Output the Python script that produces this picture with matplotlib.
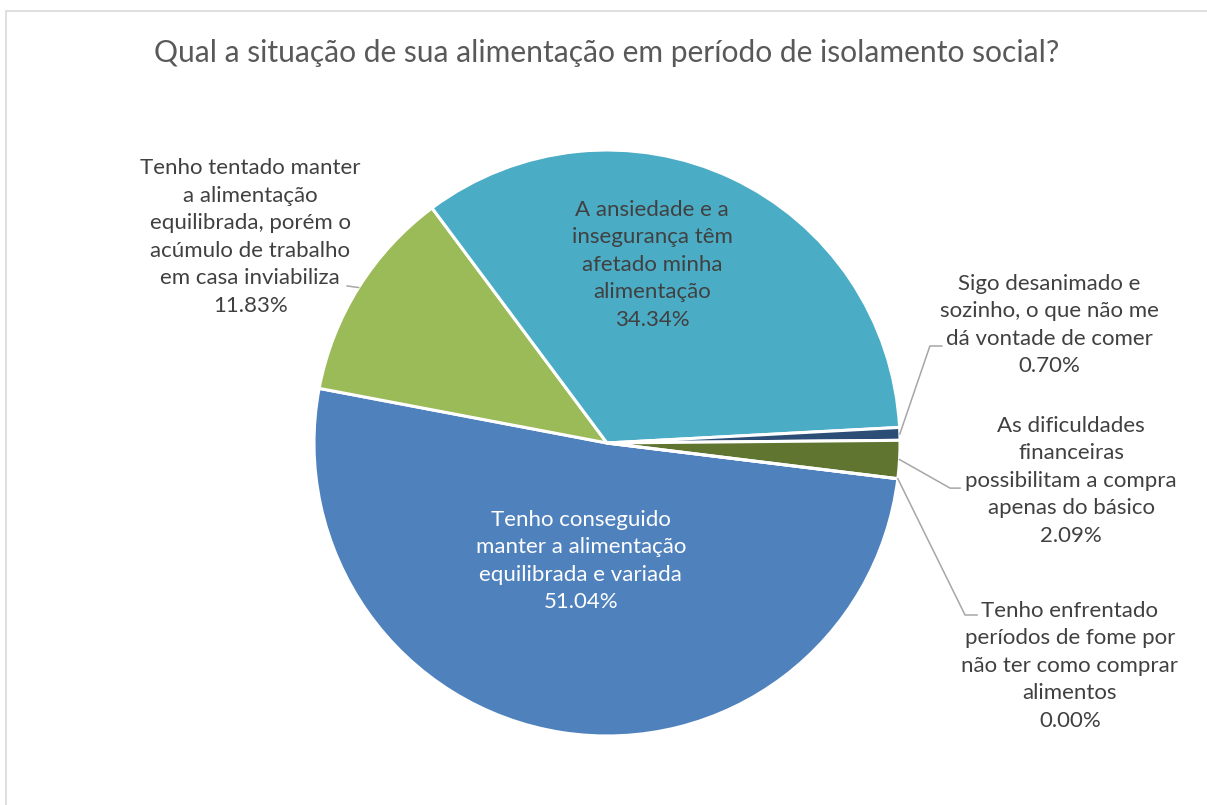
import matplotlib
matplotlib.use("Agg")
import matplotlib.pyplot as plt
from matplotlib.patches import Rectangle
import numpy as np

plt.rcParams["font.family"] = ["Lato", "DejaVu Sans"]

# slices in clockwise drawing order, starting just below 3 o'clock
labels = [
    "Tenho conseguido\nmanter a alimentação\nequilibrada e variada",
    "Tenho tentado manter\na alimentação\nequilibrada, porém o\nacúmulo de trabalho\nem casa inviabiliza",
    "A ansiedade e a\ninsegurança têm\nafetado minha\nalimentação",
    "Sigo desanimado e\nsozinho, o que não me\ndá vontade de comer",
    "As dificuldades\nfinanceiras\npossibilitam a compra\napenas do básico",
    "Tenho enfrentado\nperíodos de fome por\nnão ter como comprar\nalimentos",
]
shares = [51.04, 11.83, 34.34, 0.70, 2.09, 0.00]
colors = ["#4F81BD", "#9BBB59", "#4BACC6", "#2C4D75", "#5F7530", "#8064A2"]
title = "Qual a situação de sua alimentação em período de isolamento social?"

# label layout (data coords, pie radius = 1); None = inside the slice
label_pos = [(-0.089, -0.403), (-1.218, 0.703), (0.154, 0.608),
             (1.509, 0.403), (1.584, -0.129), (1.580, -0.761)]
leader_elbow = [None, (-0.887, 0.536), None,
                (1.102, 0.331), (1.171, -0.154), (1.222, -0.587)]
leader_end = [None, (-0.887, 0.536), None,
              (1.143, 0.331), (1.205, -0.154), (1.263, -0.587)]
text_colors = ["white", "#404040", "#404040", "#404040", "#404040", "#404040"]

W, H = 1207, 805
fig = plt.figure(figsize=(W / 100, H / 100), dpi=100)
cx, cy, r = 607, 443, 293
ax = fig.add_axes([(cx - r) / W, (H - cy - r) / H, 2 * r / W, 2 * r / H])

wedges, _ = ax.pie(shares, colors=colors, startangle=-7, counterclock=False,
                   radius=1, wedgeprops=dict(edgecolor="white", linewidth=2.2))
ax.set_xlim(-1, 1)
ax.set_ylim(-1, 1)
ax.set_aspect("equal")
ax.axis("off")

for i, w in enumerate(wedges):
    txt = f"{labels[i]}\n{shares[i]:.2f}%"
    x, y = label_pos[i]
    ax.text(x, y, txt, ha="center", va="center", fontsize=16,
            color=text_colors[i], linespacing=1.47, clip_on=False)
    if leader_elbow[i] is not None:
        ang = np.deg2rad(w.theta2 if shares[i] == 0 else (w.theta1 + w.theta2) / 2)
        x0, y0 = np.cos(ang), np.sin(ang)
        ex, ey = leader_elbow[i]
        fx, fy = leader_end[i]
        ax.plot([x0, ex, fx], [y0, ey, fy], color="#A6A6A6", lw=1.1,
                clip_on=False, solid_joinstyle="miter")

fig.text(0.503, 1 - 62 / H, title, ha="center", va="baseline",
         fontsize=21.6, color="#595959")

fig.add_artist(Rectangle((6 / W, -0.02), 1.1, (1 - 11 / H) + 0.02,
                         transform=fig.transFigure, fill=False,
                         edgecolor="#D9D9D9", lw=1.2))

fig.savefig("out.png", dpi=100, facecolor="white")
